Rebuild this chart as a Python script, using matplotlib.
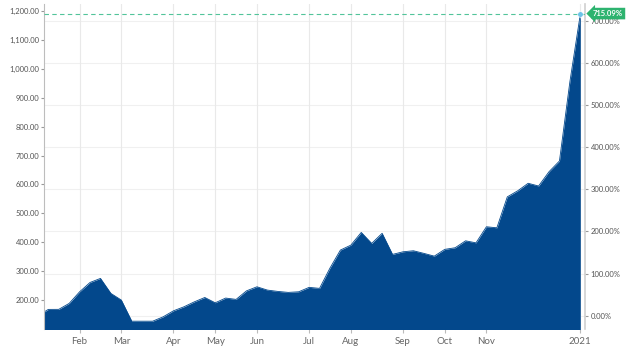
import matplotlib
matplotlib.use('Agg')
import matplotlib.pyplot as plt
import numpy as np
import pandas as pd

plt.rcParams['font.family'] = ['Lato', 'DejaVu Sans']

# weekly data (Mondays)
dates = pd.date_range('2020-01-06', periods=53, freq='W-MON')
prices = [145.81, 167.8, 168, 188.6, 228.7, 261, 275, 223, 200, 127,
          127, 127, 142, 163, 176.8, 194, 209, 190.7, 207, 202.4,
          232, 246, 234.6, 230, 226.6, 228.7, 244, 240.5, 310.7, 373,
          390, 434, 396, 431, 358, 367, 370.6, 361.6, 352, 375.4,
          381, 405, 398, 453.6, 450, 557, 578, 604, 594.5, 644,
          681, 955, 1188.48]
left_ticks = [200, 300, 400, 500, 600, 700, 800, 900, 1000, 1100, 1200]
right_ticks = [0, 100, 200, 300, 400, 500, 600, 700]

base = prices[0]
x = np.arange(len(prices))
y_lo, y_hi = 100, 1224

fig = plt.figure(figsize=(6.4, 3.52), dpi=100)
ax = fig.add_axes([44/640, 23/352, (585-44)/640, (329-4)/352])
ax2 = ax.twinx()

blue = '#03488c'
ax.fill_between(x, prices, y_lo - 50, color=blue, lw=0, zorder=2)
ax.plot(x, prices, color=blue, lw=0.6, zorder=2)
ax.set_xlim(0.585, 52.45)
ax.set_ylim(y_lo, y_hi)

# month ticks at first week of each month
tick_pos, tick_lab = [], []
for i in range(1, len(dates)):
    if dates[i].month != dates[i-1].month and dates[i].month != 12:
        tick_pos.append(i)
        tick_lab.append(str(dates[i].year) if dates[i].month == 1 else dates[i].strftime('%b'))
ax.set_xticks(tick_pos)
ax.set_xticklabels(tick_lab)
ax.set_yticks(left_ticks)
ax.set_yticklabels([f'{v:,.2f}' for v in left_ticks])

ax2.set_ylim((y_lo/base - 1)*100, (y_hi/base - 1)*100)
ax2.set_yticks(right_ticks)
ax2.set_yticklabels([f'{v:.2f}%' for v in right_ticks])

ax.grid(axis='x', color='#e9e9e9', lw=0.8)
ax.grid(axis='y', visible=False)
ax2.grid(axis='y', color='#f0f0f0', lw=0.8)
ax.set_axisbelow(True)
ax.set_zorder(ax2.get_zorder() + 1)
ax.patch.set_visible(False)

for a in (ax, ax2):
    for s in ('top', 'bottom'):
        a.spines[s].set_visible(False)
ax.spines['right'].set_visible(False)
ax2.spines['left'].set_visible(False)
ax.spines['left'].set_color('#bdbdbd')
ax2.spines['right'].set_color('#cfcfcf')
ax2.spines['right'].set_linewidth(1.2)

ax.tick_params(axis='y', length=2, color='#999999', labelsize=5.5, labelcolor='#555555', pad=1.5)
ax.tick_params(axis='x', length=3, color='#bbbbbb', labelsize=7, labelcolor='#666666', pad=3)
ax2.tick_params(axis='y', length=2, color='#999999', labelsize=5.5, labelcolor='#555555', pad=2)

# last value reference line, marker and label
last = prices[-1]
ax.axhline(last, color='#52c49a', ls=(0, (4, 3)), lw=0.8, zorder=3)
ax.plot(x[-1], last, 'o', ms=4, color='#6cc3e8', mec='white', mew=0.4, clip_on=False, zorder=5)
pct = (last / base - 1) * 100
ax.annotate(f'{pct:.2f}%', xy=(x[-1], last), xytext=(9, 0.5), textcoords='offset points',
            ha='left', va='center', fontsize=5.5, fontweight='bold', color='white',
            bbox=dict(boxstyle='larrow,pad=0.3', fc='#2db36f', ec='none'),
            annotation_clip=False, zorder=6)

fig.savefig('out.png', dpi=100)
